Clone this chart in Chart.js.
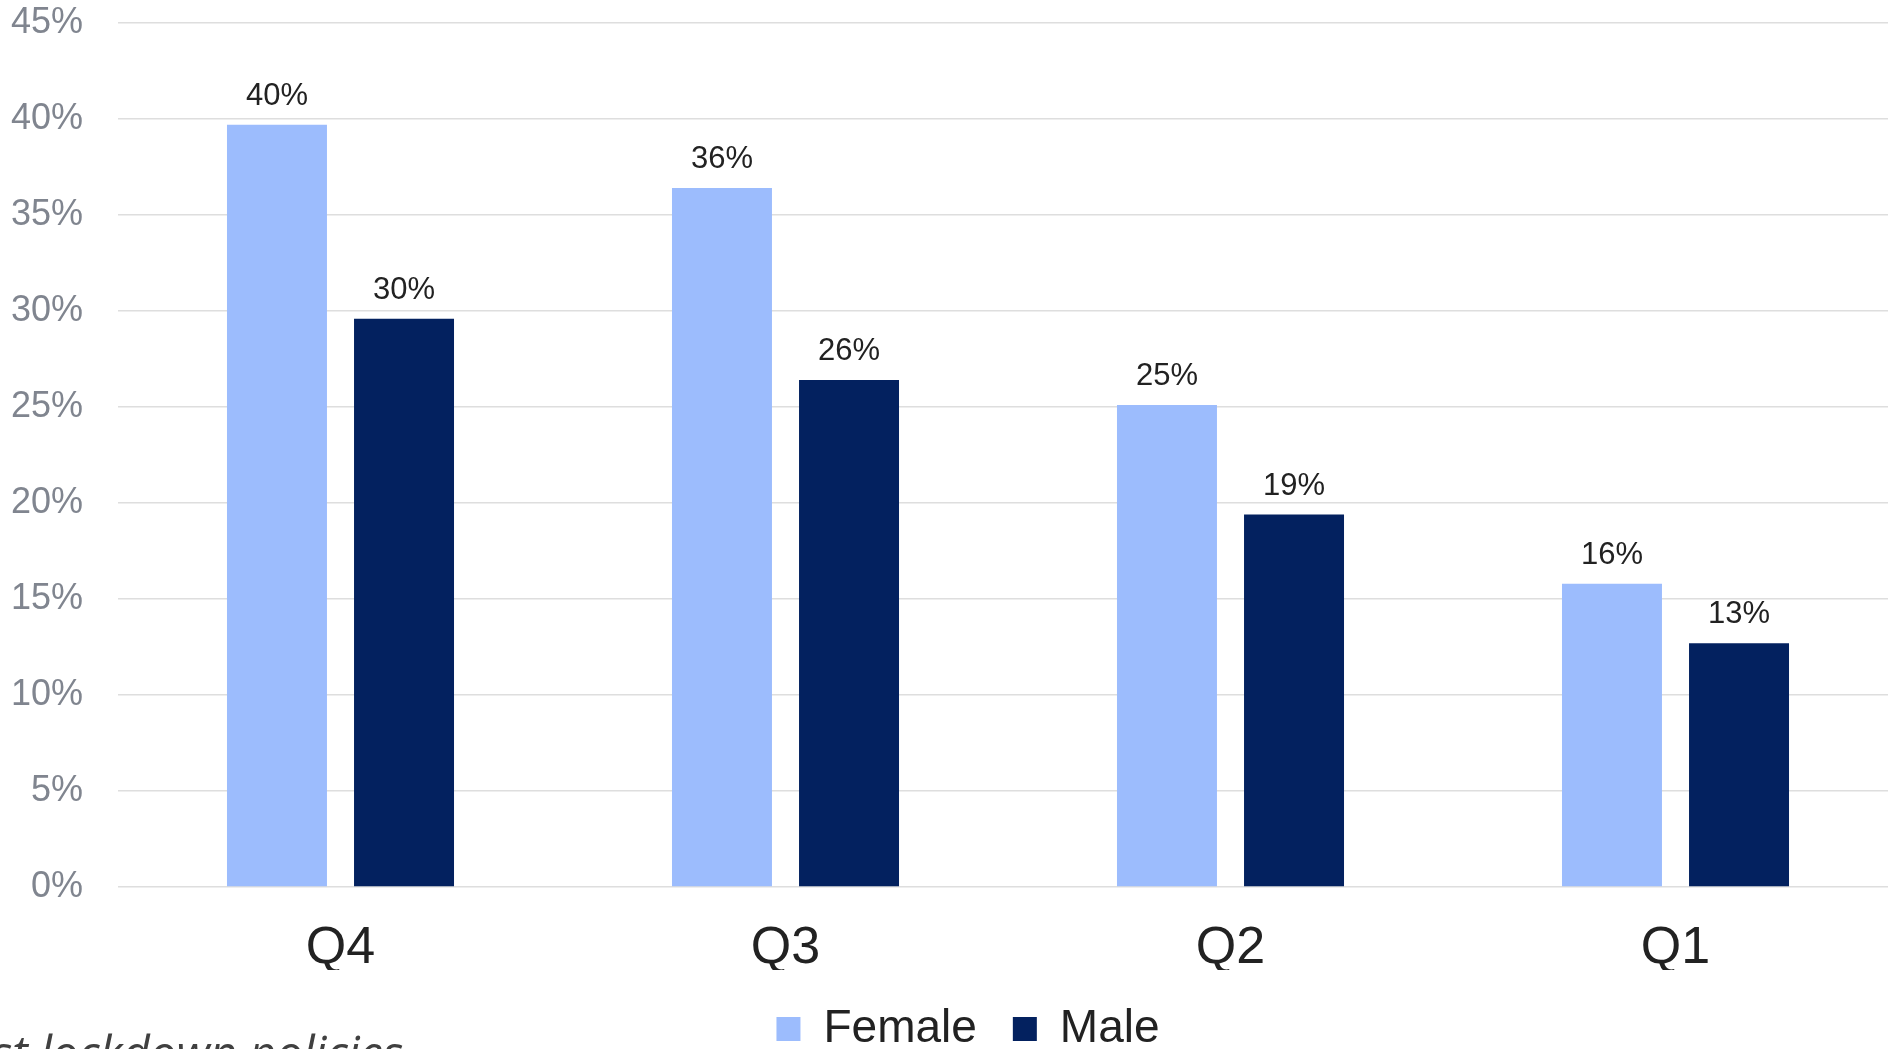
<!DOCTYPE html>
<html>
<head>
<meta charset="utf-8">
<script src="https://cdn.jsdelivr.net/npm/chart.js@4.4.0/dist/chart.umd.min.js"></script>
<style>
  html, body { margin: 0; padding: 0; background: #fff; overflow: hidden; }
  #clip { position: relative; width: 1888px; height: 1049px; overflow: hidden; }
  #wrap { position: absolute; left: 0; top: 0; width: 1936px; height: 1062px; }
  #note {
    position: absolute; left: -8px; top: 1020px;
    font: italic 47px "Open Sans", sans-serif; color: #404040; white-space: nowrap;
  }
</style>
</head>
<body>
<div id="clip">
  <div id="wrap"><canvas id="chart"></canvas></div>
  <div id="note">st lockdown policies</div>
</div>
<script>
const quartiles = ["Q4", "Q3", "Q2", "Q1"];
const female = [39.7, 36.4, 25.1, 15.8];
const male = [29.6, 26.4, 19.4, 12.7];

const font = "'Liberation Sans', Arial, sans-serif";

// value labels above each bar
const barLabels = {
  id: "barLabels",
  afterDatasetsDraw(chart) {
    const ctx = chart.ctx;
    ctx.save();
    ctx.font = "31px " + font;
    ctx.fillStyle = "#222";
    ctx.textAlign = "center";
    ctx.textBaseline = "alphabetic";
    chart.data.datasets.forEach((ds, i) => {
      chart.getDatasetMeta(i).data.forEach((bar, j) => {
        ctx.fillText(Math.round(ds.data[j]) + "%", bar.x, bar.y - 20);
      });
    });
    ctx.restore();
  },
};

new Chart(document.getElementById("chart"), {
  type: "bar",
  data: {
    labels: quartiles,
    datasets: [
      { label: "Female", data: female, backgroundColor: "#9cbcfd" },
      { label: "Male", data: male, backgroundColor: "#03215f" },
    ],
  },
  options: {
    responsive: true,
    maintainAspectRatio: false,
    animation: false,
    categoryPercentage: 0.571,
    barPercentage: 0.787,
    layout: { padding: { top: 23, right: 0, left: 0, bottom: 0 } },
    scales: {
      y: {
        min: 0,
        max: 45,
        afterFit(scale) {
          scale.width = 118;
          scale.paddingTop = 0;
          scale.paddingBottom = 0;
        },
        ticks: {
          stepSize: 5,
          padding: 35,
          color: "#80858f",
          font: { family: font, size: 36 },
          callback: (v) => v + "%",
        },
        grid: { color: "#dedede", lineWidth: 1.5, drawTicks: false },
        border: { display: false },
      },
      x: {
        afterFit(scale) {
          scale.height = 83;
          scale.paddingLeft = 0;
          scale.paddingRight = 38;
        },
        ticks: {
          padding: 30,
          color: "#222",
          font: { family: font, size: 52 },
        },
        grid: { display: false, drawTicks: false },
        border: { display: false },
      },
    },
    plugins: {
      legend: {
        position: "bottom",
        labels: {
          boxWidth: 24,
          boxHeight: 24,
          padding: 36,
          color: "#222",
          font: { family: font, size: 46 },
        },
      },
      tooltip: { enabled: false },
    },
  },
  plugins: [barLabels],
});
</script>
</body>
</html>
